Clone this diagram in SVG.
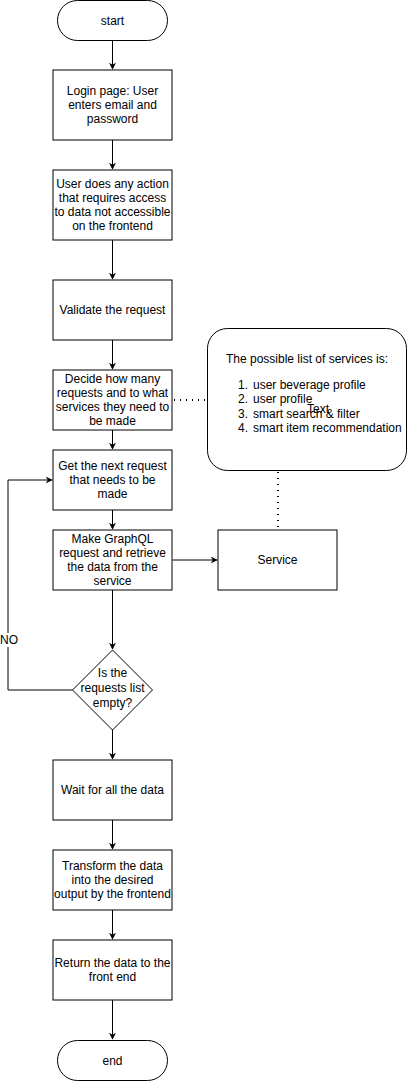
<svg xmlns="http://www.w3.org/2000/svg" width="409" height="1081" viewBox="0 0 409 1081">
<style>
.s{fill:#fff;stroke:#000;stroke-width:1}
.t{font-family:"Liberation Sans",Arial,sans-serif;font-size:12px;fill:#000;text-anchor:middle}
.l{font-family:"Liberation Sans",Arial,sans-serif;font-size:12px;fill:#000}
.c{fill:none;stroke:#000;stroke-width:1}
.d{fill:none;stroke:#000;stroke-width:2;stroke-dasharray:1 5}
</style>
<defs>
<marker id="a" viewBox="0 0 10 10" refX="9" refY="5" markerWidth="7" markerHeight="7" markerUnits="userSpaceOnUse" orient="auto"><path d="M0,0 L10,5 L0,10 L3,5 Z" fill="#000"/></marker>
</defs>
<rect width="409" height="1081" fill="#fff"/>
<g id="connectors">
<path class="c" d="M112.5,40 V69" marker-end="url(#a)"/>
<path class="c" d="M112.5,140 V169" marker-end="url(#a)"/>
<path class="c" d="M112.5,240 V279" marker-end="url(#a)"/>
<path class="c" d="M112.5,340 V369" marker-end="url(#a)"/>
<path class="c" d="M112.5,430 V449" marker-end="url(#a)"/>
<path class="c" d="M112.5,510 V529" marker-end="url(#a)"/>
<path class="c" d="M112.5,590 V649" marker-end="url(#a)"/>
<path class="c" d="M112.5,730 V759" marker-end="url(#a)"/>
<path class="c" d="M112.5,820 V849" marker-end="url(#a)"/>
<path class="c" d="M112.5,910 V939" marker-end="url(#a)"/>
<path class="c" d="M112.5,1000 V1039" marker-end="url(#a)"/>
<path class="c" d="M172.5,560 H217" marker-end="url(#a)"/>
<path class="c" d="M72.5,690 H8 V480 H52" marker-end="url(#a)"/>
<rect x="0" y="633" width="17" height="14" fill="#fff"/>
<text class="l" x="0" y="644">NO</text>
<path class="d" d="M174,400 H207"/>
<path class="d" d="M278,472 V529"/>
</g>
<g id="start"><rect class="s" x="57.5" y="0.5" width="110" height="40" rx="20" ry="20"/><text class="t" x="112.5" y="25">start</text></g>
<g id="login"><rect class="s" x="53" y="70" width="119" height="70"/><text class="t" x="112.5" y="95">Login page: User</text><text class="t" x="112.5" y="109">enters email and</text><text class="t" x="112.5" y="123">password</text></g>
<g id="action"><rect class="s" x="53" y="170" width="119" height="70"/><text class="t" x="112.5" y="188">User does any action</text><text class="t" x="112.5" y="202">that requires access</text><text class="t" x="112.5" y="216">to data not accessible</text><text class="t" x="112.5" y="230">on the frontend</text></g>
<g id="validate"><rect class="s" x="53" y="280" width="119" height="60"/><text class="t" x="112.5" y="314">Validate the request</text></g>
<g id="decide"><rect class="s" x="53" y="370" width="119" height="60"/><text class="t" x="112.5" y="383">Decide how many</text><text class="t" x="112.5" y="397">requests and to what</text><text class="t" x="112.5" y="411">services they need to</text><text class="t" x="112.5" y="425">be made</text></g>
<g id="next"><rect class="s" x="53" y="450" width="119" height="60"/><text class="t" x="112.5" y="470">Get the next request</text><text class="t" x="112.5" y="484">that needs to be</text><text class="t" x="112.5" y="498">made</text></g>
<g id="graphql"><rect class="s" x="53" y="530" width="119" height="60"/><text class="t" x="112.5" y="543">Make GraphQL</text><text class="t" x="112.5" y="557">request and retrieve</text><text class="t" x="112.5" y="571">the data from the</text><text class="t" x="112.5" y="585">service</text></g>
<g id="service"><rect class="s" x="218" y="530" width="119" height="60"/><text class="t" x="277.5" y="564">Service</text></g>
<g id="services-list"><rect class="s" x="207.5" y="328.5" width="199" height="142" rx="20" ry="20"/><text class="t" x="307" y="363">The possible list of services is:</text>
<text class="l" x="238" y="389">1.</text><text class="l" x="253" y="389">user beverage profile</text>
<text class="l" x="238" y="403">2.</text><text class="l" x="253" y="403">user profile</text>
<text class="l" x="238" y="418">3.</text><text class="l" x="253" y="418">smart search &amp; filter</text>
<text class="l" x="238" y="432">4.</text><text class="l" x="253" y="432">smart item recommendation</text>
<text class="t" x="318" y="413">Text</text></g>
<g id="decision"><path class="s" d="M112.5,650 L152.5,690 L112.5,730 L72.5,690 Z"/><text class="t" x="112.5" y="677">Is the</text><text class="t" x="112.5" y="692">requests list</text><text class="t" x="112.5" y="707">empty?</text></g>
<g id="wait"><rect class="s" x="53" y="760" width="119" height="60"/><text class="t" x="112.5" y="794">Wait for all the data</text></g>
<g id="transform"><rect class="s" x="53" y="850" width="119" height="60"/><text class="t" x="112.5" y="870">Transform the data</text><text class="t" x="112.5" y="884">into the desired</text><text class="t" x="112.5" y="898">output by the frontend</text></g>
<g id="return"><rect class="s" x="53" y="940" width="119" height="60"/><text class="t" x="112.5" y="967">Return the data to the</text><text class="t" x="112.5" y="981">front end</text></g>
<g id="end"><rect class="s" x="57.5" y="1040.5" width="110" height="40" rx="20" ry="20"/><text class="t" x="112.5" y="1065">end</text></g>
</svg>
